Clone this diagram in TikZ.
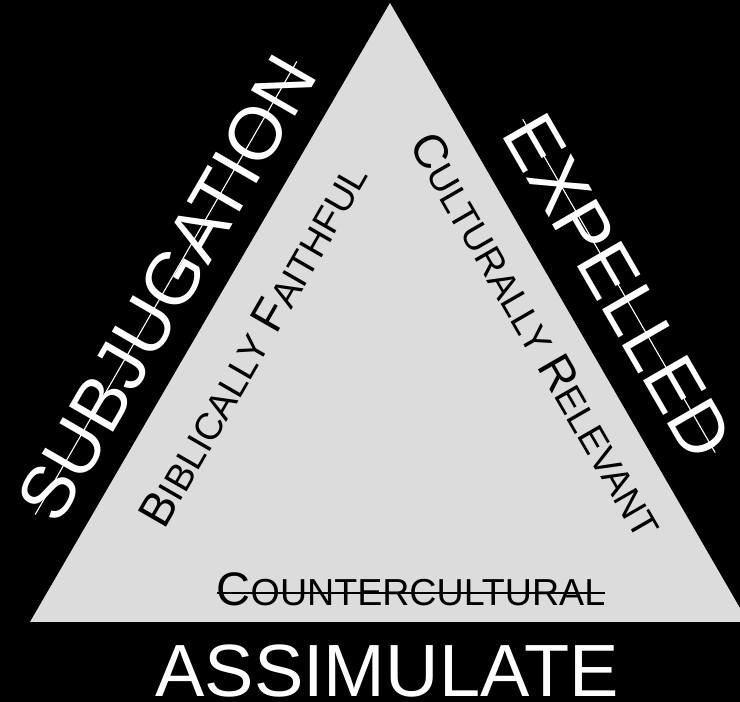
\documentclass[tikz,border=0pt]{standalone}
\usepackage{fontspec}
\setmainfont{Liberation Sans}
\definecolor{trifill}{HTML}{DCDCDC}
\newcommand{\fakesc}[2]{{\fontsize{47}{47}\selectfont #1}{\fontsize{37.6}{37.6}\selectfont #2}}

\begin{document}
\begin{tikzpicture}[x=1pt,y=1pt,
  bigword/.style={text=white,font=\fontsize{74}{74}\selectfont,inner xsep=1pt,inner ysep=0pt,text height=53pt,text depth=0pt},
  scword/.style={text=black,font=\fontsize{37.6}{37.6}\selectfont,inner sep=0pt},
  strike/.style={line width=1.1pt}]
\fill[black] (0,0) rectangle (740,702);
\useasboundingbox (0,0) rectangle (740,702);
\fill[trifill] (390,699) -- (30,80) -- (748,80) -- cycle;
% the three sides
\node[bigword,rotate=60] (subj) at (166,414) {SUBJUGATION};
\draw[white,strike] (subj.west) -- (subj.east);
\node[bigword,rotate=-60] (expel) at (619,416) {EXPELLED};
\draw[white,strike] (expel.west) -- (expel.east);
\node[bigword,anchor=base] (assim) at (387,5) {ASSIMULATE};
% inside the triangle
\node[scword,rotate=60] (bibl) at (253,357) {\fakesc{B}{IBLICALLY} \fakesc{F}{AITHFUL}};
\node[scword,rotate=-60] (cult) at (537,367) {\fakesc{C}{ULTURALLY} \fakesc{R}{ELEVANT}};
\node[scword,anchor=base] (counter) at (411,96) {\fakesc{C}{OUNTERCULTURAL}};
\draw[strike,line width=1.5pt] ([yshift=13pt]counter.base west) -- ([yshift=13pt]counter.base east);
\end{tikzpicture}
\end{document}
